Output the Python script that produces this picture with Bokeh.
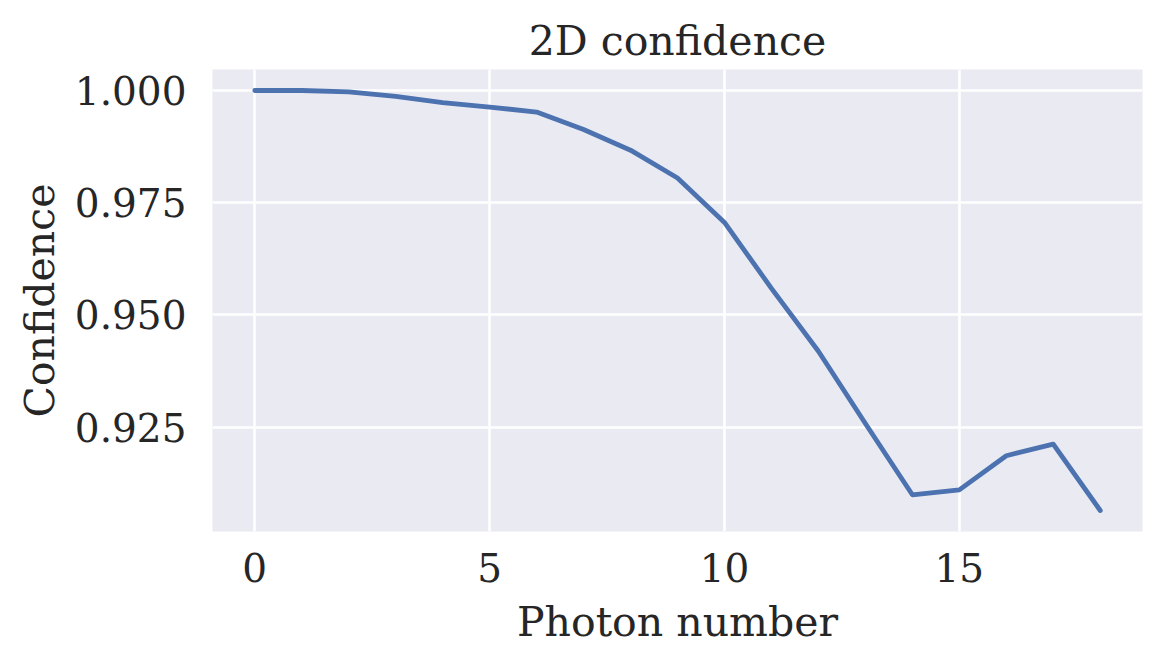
from bokeh.plotting import figure
from bokeh.models import ColumnDataSource, FixedTicker, NumeralTickFormatter, Range1d
from bokeh.embed import file_html
from bokeh.resources import INLINE

# Values
photon_number = [0, 1, 2, 3, 4, 5, 6, 7, 8, 9, 10, 11, 12, 13, 14, 15, 16, 17, 18]
confidence = [1.0000, 1.0000, 0.9997, 0.9987, 0.9973, 0.9963, 0.9952, 0.9913,
              0.9867, 0.9805, 0.9706, 0.9559, 0.9419, 0.9258, 0.9099, 0.9110,
              0.9186, 0.9212, 0.9064]
x_ticks = [0, 5, 10, 15]
y_ticks = [0.925, 0.950, 0.975, 1.000]

FONT = "DejaVu Serif"
TEXT = "#262626"

source = ColumnDataSource(data=dict(x=photon_number, y=confidence))

# matplotlib-style 5% margins around the data
xpad = (max(photon_number) - min(photon_number)) * 0.05
ypad = (max(confidence) - min(confidence)) * 0.05

p = figure(
    frame_width=930,
    frame_height=462,
    min_border_left=212,
    min_border_right=3,
    min_border_top=69,
    min_border_bottom=119,
    x_range=Range1d(min(photon_number) - xpad, max(photon_number) + xpad),
    y_range=Range1d(min(confidence) - ypad, max(confidence) + ypad),
    title="2D confidence",
    output_backend="svg",
    toolbar_location=None,
)

p.line("x", "y", source=source, line_color="#4C72B0", line_width=4.8,
       line_cap="round", line_join="round")

# seaborn darkgrid look
p.background_fill_color = "#EAEAF2"
p.border_fill_color = "white"
p.outline_line_color = None
p.grid.grid_line_color = "white"
p.grid.grid_line_width = 2.6

p.title.text_font = FONT
p.title.text_font_size = "41px"
p.title.text_font_style = "normal"
p.title.text_color = TEXT
p.title.align = "center"

p.xaxis.ticker = FixedTicker(ticks=x_ticks)
p.yaxis.ticker = FixedTicker(ticks=y_ticks)
p.yaxis.formatter = NumeralTickFormatter(format="0.000")
p.xaxis.axis_label = "Photon number"
p.yaxis.axis_label = "Confidence"

for ax in (p.xaxis, p.yaxis):
    ax.axis_line_color = None
    ax.major_tick_line_color = None
    ax.minor_tick_line_color = None
    ax.major_label_text_font = FONT
    ax.major_label_text_font_size = "39px"
    ax.major_label_text_color = TEXT
    ax.axis_label_text_font = FONT
    ax.axis_label_text_font_size = "41px"
    ax.axis_label_text_font_style = "normal"
    ax.axis_label_text_color = TEXT

p.xaxis.major_label_standoff = 15
p.yaxis.major_label_standoff = 20
p.xaxis.axis_label_standoff = 13
p.yaxis.axis_label_standoff = 8

open("out.html", "w").write(file_html(p, INLINE))
